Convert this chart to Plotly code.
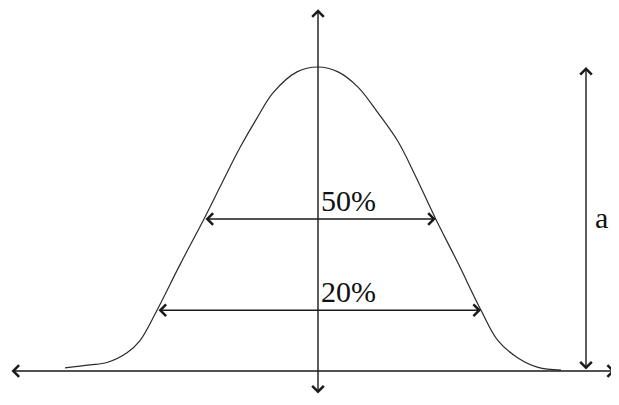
import numpy as np
import plotly.graph_objects as go

# Curve samples: horizontal offset from the centre line, and height as a fraction of the peak "a"
curve_x = [-253, -228, -211, -191, -178, -161, -138, -114, -95, -78, -61, -45, -21, 0,
           20, 40, 60, 80, 97, 117, 140, 163, 180, 200, 220, 243]
curve_h = [0.01, 0.02, 0.028, 0.06, 0.10, 0.20, 0.35, 0.50, 0.625, 0.735, 0.832, 0.915, 0.984, 1.0,
           0.984, 0.934, 0.849, 0.755, 0.645, 0.505, 0.355, 0.20, 0.10, 0.043, 0.012, 0.003]

levels = [0.5, 0.2]
level_labels = ["50%", "20%"]
peak_label = "a"

# axis extents (data units)
x_axis_span = [-308, 297]
y_axis_span = [-0.079, 1.19]
a_arrow_x = 268

cx = np.array(curve_x, dtype=float)
ch = np.array(curve_h, dtype=float)
ipk = int(np.argmax(ch))
left_x, left_h = cx[:ipk + 1], ch[:ipk + 1]
right_x, right_h = cx[ipk:], ch[ipk:]

fig = go.Figure()
fig.add_trace(go.Scatter(x=curve_x, y=curve_h, mode="lines",
                         line=dict(color="#2b2b2b", width=1.2, shape="spline", smoothing=1.0),
                         hoverinfo="skip", showlegend=False))

ann = []

def dbl_arrow(x0, y0, x1, y1):
    return dict(x=x1, y=y1, ax=x0, ay=y0, xref="x", yref="y", axref="x", ayref="y",
                text="", showarrow=True, arrowside="end+start",
                arrowhead=4, startarrowhead=4, arrowsize=1.6, startarrowsize=1.6,
                arrowwidth=1.4, arrowcolor="#1a1a1a", standoff=0, startstandoff=0)

# axes
ann.append(dbl_arrow(x_axis_span[0], 0, x_axis_span[1], 0))
ann.append(dbl_arrow(0, y_axis_span[0], 0, y_axis_span[1]))

# level arrows
for lv, lab in zip(levels, level_labels):
    xl = float(np.interp(lv, left_h, left_x))
    xr = float(np.interp(lv, right_h[::-1], right_x[::-1]))
    ann.append(dbl_arrow(xl, lv, xr, lv))
    ann.append(dict(x=1, y=lv, xref="x", yref="y", text=lab, showarrow=False,
                    xanchor="left", yanchor="bottom", yshift=0,
                    font=dict(family="Liberation Serif", size=30, color="#111111")))

# height arrow "a"
ann.append(dbl_arrow(a_arrow_x, 0, a_arrow_x, max(curve_h)))
ann.append(dict(x=a_arrow_x, y=max(curve_h) / 2, xref="x", yref="y", text=peak_label,
                showarrow=False, xanchor="left", yanchor="middle", xshift=7, yshift=2,
                font=dict(family="Liberation Serif", size=30, color="#111111")))

# the page puts the figure 8 px in from the top-left corner, so the figure is 8 px smaller
fig.update_layout(
    width=611, height=397, margin=dict(l=0, r=0, t=0, b=0),
    paper_bgcolor="white", plot_bgcolor="white",
    xaxis=dict(range=[-310, 301], visible=False, fixedrange=True),
    yaxis=dict(range=[-0.1118, 1.1941], visible=False, fixedrange=True),
    annotations=ann, showlegend=False,
)
fig.write_html("out.html")
